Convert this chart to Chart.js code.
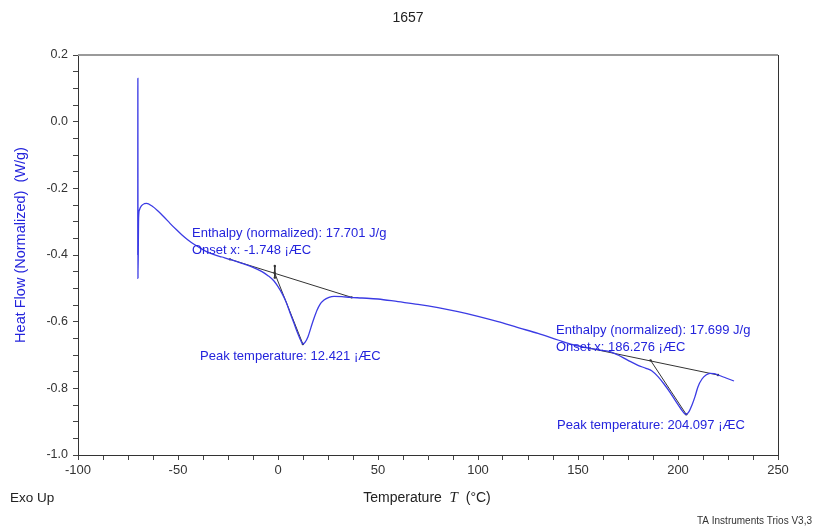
<!DOCTYPE html>
<html>
<head>
<meta charset="utf-8">
<title>1657</title>
<script src="https://cdn.jsdelivr.net/npm/chart.js@4/dist/chart.umd.min.js"></script>
<style>
  html, body { margin: 0; padding: 0; background: #fff; }
  canvas { display: block; }
</style>
</head>
<body>
<canvas id="dsc" width="818" height="530"></canvas>
<script>
// DSC heat-flow trace, sample 1657
const temperature = [
  -70.12, -70.06, -70.0, -69.7, -69.3, -68.2, -66.8, -65.7, -63, -60, -57, -54, -51, -48, -45, -42, -39, -36, -32, -28,
  -24, -18, -12.5, -8, -5, -2, 0, 2, 4, 6, 8, 10, 11.5, 12.4, 13.5, 15, 16.5, 18, 19.5,
  21, 23, 25.5, 28, 32, 36, 42, 50, 60, 70, 80, 90, 100, 110, 120, 130, 140, 148,
  156, 162, 166, 170, 175, 180, 184, 187, 190, 193, 196, 199, 201.5, 203, 204.1, 205.5,
  207, 208.5, 210, 212, 214, 216, 218, 220, 224, 228
];
const heatFlow = [
  -0.40, 0.13, -0.47, -0.29, -0.265, -0.252, -0.246, -0.245, -0.253, -0.268, -0.286, -0.305, -0.323, -0.340, -0.355, -0.368, -0.379, -0.389, -0.399, -0.406,
  -0.413, -0.425, -0.437, -0.450, -0.462, -0.478, -0.495, -0.515, -0.540, -0.573, -0.605, -0.637, -0.658, -0.667, -0.662, -0.645, -0.617, -0.590, -0.566,
  -0.548, -0.535, -0.527, -0.524, -0.525, -0.527, -0.529, -0.532, -0.540, -0.548, -0.558, -0.570, -0.584, -0.600, -0.618, -0.635, -0.655, -0.670,
  -0.680, -0.686, -0.690, -0.700, -0.716, -0.731, -0.740, -0.748, -0.765, -0.787, -0.812, -0.840, -0.862, -0.874, -0.878, -0.870,
  -0.850, -0.825, -0.795, -0.772, -0.760, -0.755, -0.756, -0.760, -0.769, -0.778
];

// Peak analysis results
const onsetTemps = [-1.748, 186.276];
const peakTemps = [12.421, 204.097];
const enthalpies = [17.701, 17.699];
// integration baselines (start/end) and onset tangents
const baseline1 = [[-24, -0.413], [36.8, -0.527]];
const tangent1 = [[-1.748, -0.453], [12.421, -0.667]];
const onsetMark1 = [[-1.6, -0.433], [-1.6, -0.468]];
const baseline2 = [[156, -0.680], [220, -0.760]];
const tangent2 = [[186.276, -0.716], [204.097, -0.878]];

// Axis ticks
const xTickStep = 12.5;
const yTickStep = 0.05;

const toXY = arr => arr.map(p => ({ x: p[0], y: p[1] }));
const curve = temperature.map((t, i) => ({ x: t, y: heatFlow[i] }));

const blueLine = '#3b3be4';
const blueText = '#2424dc';
const sans = '"Liberation Sans", Arial, sans-serif';
const axisFont = { family: 'Liberation Sans, Arial, sans-serif', size: 13 };

const annotations = [
  { x: -43, y: -0.335, lines: ['Enthalpy (normalized): ' + enthalpies[0].toFixed(3) + ' J/g', 'Onset x: ' + onsetTemps[0] + ' \u00A1\u00C6C'] },
  { x: -39, y: -0.705, lines: ['Peak temperature: ' + peakTemps[0] + ' \u00A1\u00C6C'] },
  { x: 139, y: -0.627, lines: ['Enthalpy (normalized): ' + enthalpies[1].toFixed(3) + ' J/g', 'Onset x: ' + onsetTemps[1] + ' \u00A1\u00C6C'] },
  { x: 139.5, y: -0.912, lines: ['Peak temperature: ' + peakTemps[1] + ' \u00A1\u00C6C'] }
];

const decorPlugin = {
  id: 'decor',
  afterDraw(chart) {
    const { ctx, chartArea: a, scales } = chart;
    ctx.save();
    // frame: grey top edge, dark right edge
    ctx.strokeStyle = '#9a9a9a';
    ctx.lineWidth = 2;
    ctx.beginPath(); ctx.moveTo(a.left, a.top); ctx.lineTo(a.right, a.top); ctx.stroke();
    ctx.strokeStyle = '#333';
    ctx.lineWidth = 1;
    ctx.beginPath(); ctx.moveTo(a.right + 0.5, a.top); ctx.lineTo(a.right + 0.5, a.bottom); ctx.stroke();

    // analysis labels
    ctx.fillStyle = blueText;
    ctx.font = '13px ' + sans;
    ctx.textBaseline = 'middle';
    ctx.textAlign = 'left';
    annotations.forEach(an => {
      const px = scales.x.getPixelForValue(an.x);
      const py = scales.y.getPixelForValue(an.y);
      an.lines.forEach((s, i) => ctx.fillText(s, px, py + i * 17));
    });

    // title
    ctx.fillStyle = '#222';
    ctx.font = '14px ' + sans;
    ctx.textAlign = 'center';
    ctx.fillText('1657', 408, 18);

    // y axis title
    ctx.save();
    ctx.translate(21, 245);
    ctx.rotate(-Math.PI / 2);
    ctx.fillStyle = blueText;
    ctx.font = '14.5px ' + sans;
    ctx.fillText('Heat Flow (Normalized)  (W/g)', 0, 0);
    ctx.restore();

    // x axis title with italic symbol
    ctx.fillStyle = '#222';
    ctx.textAlign = 'left';
    const part1 = 'Temperature  ';
    const part3 = '  (\u00B0C)';
    const italic = 'italic 15px "Liberation Serif", "Times New Roman", serif';
    ctx.font = italic;
    const wT = ctx.measureText('T').width;
    ctx.font = '14px ' + sans;
    const w1 = ctx.measureText(part1).width;
    const w3 = ctx.measureText(part3).width;
    const sx = 427 - (w1 + wT + w3) / 2;
    ctx.fillText(part1, sx, 498);
    ctx.font = italic;
    ctx.fillText('T', sx + w1, 498);
    ctx.font = '14px ' + sans;
    ctx.fillText(part3, sx + w1 + wT, 498);

    ctx.font = '13.5px ' + sans;
    ctx.fillText('Exo Up', 10, 498);

    ctx.font = '10px ' + sans;
    ctx.textAlign = 'right';
    ctx.fillStyle = '#333';
    ctx.fillText('TA Instruments Trios V3,3', 812, 521);
    ctx.restore();
  }
};

const thin = (data, color) => ({
  data, showLine: true, borderColor: color, borderWidth: 1,
  pointRadius: 1.2, pointBackgroundColor: color, pointBorderWidth: 0, tension: 0
});

new Chart(document.getElementById('dsc'), {
  type: 'scatter',
  data: {
    datasets: [
      {
        data: curve, showLine: true, borderColor: blueLine, borderWidth: 1.3,
        pointRadius: 0, cubicInterpolationMode: 'monotone'
      },
      thin(toXY(baseline1), '#333'),
      thin(toXY(tangent1), '#333'),
      thin(toXY(onsetMark1), '#333'),
      thin(toXY(baseline2), '#333'),
      thin(toXY(tangent2), '#333')
    ]
  },
  options: {
    responsive: false,
    devicePixelRatio: 1,
    animation: false,
    layout: { padding: { top: 55, right: 40, left: 0, bottom: 0 } },
    plugins: { legend: { display: false }, tooltip: { enabled: false }, title: { display: false } },
    scales: {
      x: {
        type: 'linear', min: -100, max: 250,
        afterFit: s => { s.height = 75; },
        border: { color: '#333', width: 1 },
        grid: { drawOnChartArea: false, tickLength: 5, color: '#444' },
        ticks: {
          stepSize: xTickStep, autoSkip: false, maxRotation: 0, padding: 3,
          color: '#333', font: axisFont,
          callback: v => (Math.abs(v % 50) < 1e-6 ? String(v) : '')
        }
      },
      y: {
        type: 'linear', min: -1.0, max: 0.2,
        afterFit: s => { s.width = 78; },
        border: { color: '#333', width: 1 },
        grid: { drawOnChartArea: false, tickLength: 5, color: '#444' },
        ticks: {
          stepSize: yTickStep, autoSkip: false, padding: 5,
          color: '#333', font: { family: 'Liberation Sans, Arial, sans-serif', size: 12.5 },
          callback: v => {
            const k = Math.round(v * 100);
            if (k % 20 !== 0) return '';
            return k === 0 ? '0.0' : (k / 100).toFixed(1);
          }
        }
      }
    }
  },
  plugins: [decorPlugin]
});
</script>
</body>
</html>
